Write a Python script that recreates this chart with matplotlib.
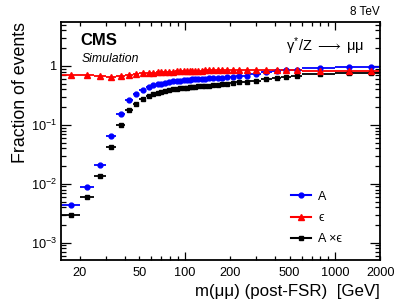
import matplotlib
matplotlib.use("Agg")
import matplotlib.pyplot as plt
from matplotlib.ticker import FixedLocator, FuncFormatter, LogLocator, NullFormatter
from matplotlib.lines import Line2D
import numpy as np

plt.rcParams['font.family'] = ['Liberation Sans', 'DejaVu Sans']
plt.rcParams['mathtext.fontset'] = 'custom'
plt.rcParams['mathtext.rm'] = 'Liberation Sans'
plt.rcParams['mathtext.it'] = 'Liberation Sans'
plt.rcParams['mathtext.bf'] = 'Liberation Sans:bold'

bin_edges = [15, 20, 25, 30, 35, 40, 45, 50, 55, 60, 64, 68, 72, 76, 81, 86, 91, 96,
             101, 106, 110, 115, 120, 126, 133, 141, 150, 160, 171, 185, 200, 220,
             243, 273, 320, 380, 440, 510, 600, 1000, 1500, 2000]

acceptance = [0.0044, 0.0088, 0.021, 0.066, 0.155, 0.265, 0.33, 0.39, 0.44,
              0.47, 0.485, 0.50, 0.515, 0.53, 0.545, 0.555, 0.565, 0.575, 0.58,
              0.585, 0.59, 0.595, 0.60, 0.605, 0.61, 0.62, 0.625, 0.63, 0.635,
              0.64, 0.65, 0.665, 0.685, 0.73, 0.78, 0.82, 0.845, 0.855, 0.91,
              0.95, 0.97]

efficiency = [0.70, 0.70, 0.67, 0.64, 0.68, 0.71, 0.73, 0.75, 0.76,
              0.77, 0.78, 0.785, 0.79, 0.80, 0.805, 0.81, 0.815, 0.82, 0.825,
              0.825, 0.83, 0.83, 0.835, 0.835, 0.84, 0.84, 0.84, 0.845, 0.845,
              0.85, 0.85, 0.85, 0.855, 0.855, 0.86, 0.86, 0.86, 0.855, 0.83,
              0.82, 0.81]

acc_x_eff = [0.0029, 0.006, 0.0137, 0.042, 0.10, 0.18, 0.23, 0.27, 0.31,
             0.33, 0.35, 0.365, 0.38, 0.39, 0.40, 0.41, 0.42, 0.425, 0.43,
             0.435, 0.44, 0.445, 0.45, 0.455, 0.46, 0.465, 0.47, 0.48, 0.49,
             0.50, 0.51, 0.53, 0.54, 0.565, 0.595, 0.62, 0.64, 0.67, 0.72,
             0.75, 0.77]

legend_labels = ["A", "ϵ", "A ×ϵ"]

edges = np.array(bin_edges, dtype=float)
xc = 0.5 * (edges[:-1] + edges[1:])
xlo = xc - edges[:-1]
xhi = edges[1:] - xc

fig = plt.figure(figsize=(4.11, 3.08), dpi=100)
ax = fig.add_axes([0.148, 0.156, 0.777, 0.773])

series = [
    (acceptance, 'blue', 'o', 3.5),
    (acc_x_eff, 'black', 's', 3.3),
    (efficiency, 'red', '^', 3.8),
]
for vals, col, mk, ms in series:
    ax.errorbar(xc, vals, xerr=[xlo, xhi], fmt=mk, color=col, ms=ms,
                mec=col, mfc=col, elinewidth=1.3, capsize=0, lw=0)

ax.set_xscale('log')
ax.set_yscale('log')
ax.set_xlim(15, 2000)
ax.set_ylim(5.1e-4, 5.6)

# x ticks (ROOT style)
ax.xaxis.set_major_locator(FixedLocator([100, 1000]))
minor_x = [m * d for d in (10, 100, 1000) for m in range(2, 10)]
minor_x = [v for v in minor_x if 15 <= v <= 2000]
ax.xaxis.set_minor_locator(FixedLocator(minor_x))
ax.xaxis.set_major_formatter(FuncFormatter(lambda v, p: "%d" % v))
label_minor = {20, 50, 200, 500, 2000}
ax.xaxis.set_minor_formatter(FuncFormatter(lambda v, p: ("%d" % round(v)) if round(v) in label_minor else ""))

def yfmt(v, p):
    e = int(round(np.log10(v)))
    if e == 0:
        return "1"
    return r"$10^{%d}$" % e

ax.yaxis.set_major_locator(LogLocator(base=10, numticks=10))
ax.yaxis.set_major_formatter(FuncFormatter(yfmt))
ax.yaxis.set_minor_locator(LogLocator(base=10, subs=np.arange(2, 10), numticks=10))
ax.yaxis.set_minor_formatter(NullFormatter())

ax.tick_params(which='both', direction='in', top=True, right=True, labelsize=9.2, width=0.9, colors='black')
ax.tick_params(axis='y', which='major', length=7.5, pad=3)
ax.tick_params(axis='y', which='minor', length=3.8)
ax.tick_params(axis='x', which='major', length=5.5, pad=5)
ax.tick_params(axis='x', which='minor', length=3.0, pad=5)
for s in ax.spines.values():
    s.set_linewidth(1.3)

ax.set_ylabel("Fraction of events", fontsize=12.8, loc='top', labelpad=1)
ax.set_xlabel("m(μμ) (post-FSR)  [GeV]", fontsize=12.2, loc='right', labelpad=4)

ax.text(0.06, 0.955, "CMS", transform=ax.transAxes, fontsize=12, fontweight='bold', va='top', ha='left')
ax.text(0.065, 0.87, "Simulation", transform=ax.transAxes, fontsize=8.8, style='italic', va='top', ha='left')
ax.text(0.705, 0.945, r"$\gamma^{*}/\mathrm{Z}\;\longrightarrow\;\mu\mu$", transform=ax.transAxes, fontsize=10.5, va='top', ha='left')
fig.text(0.925, 0.94, "8 TeV", fontsize=8.5, ha='right', va='bottom')

handles = [
    Line2D([], [], color='blue', marker='o', ms=3.5, lw=1.5),
    Line2D([], [], color='red', marker='^', ms=3.8, lw=1.5),
    Line2D([], [], color='black', marker='s', ms=3.3, lw=1.5),
]
ax.legend(handles, legend_labels, loc='lower left', bbox_to_anchor=(0.705, 0.04),
          frameon=False, fontsize=9, handlelength=1.6, labelspacing=0.75,
          handletextpad=0.6, borderaxespad=0)

fig.savefig("out.png", dpi=100)
